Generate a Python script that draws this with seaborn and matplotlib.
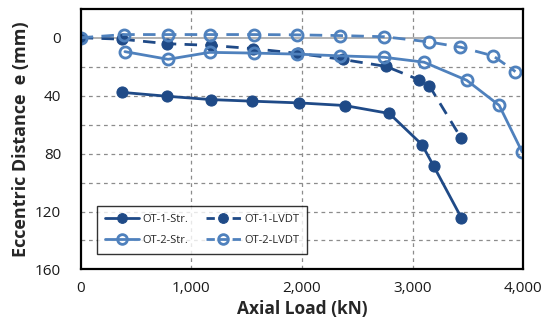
import matplotlib
matplotlib.use("Agg")
import matplotlib.pyplot as plt
from matplotlib.lines import Line2D
import seaborn as sns

# Data
ot1_str_load = [370, 780, 1175, 1545, 1975, 2385, 2790, 3085, 3190, 3440]
ot1_str_e = [37.7, 40.4, 42.7, 43.8, 45.0, 46.8, 52.3, 73.8, 88.5, 124.2]

ot1_lvdt_load = [0, 370, 780, 1175, 1555, 1960, 2370, 2760, 3055, 3150, 3438]
ot1_lvdt_e = [0, 1.0, 4.1, 5.3, 7.5, 10.8, 15.0, 19.8, 28.9, 33.0, 69.2]

ot2_str_load = [400, 790, 1165, 1565, 1955, 2340, 2745, 3105, 3490, 3783, 3990]
ot2_str_e = [9.6, 14.9, 10.1, 10.6, 11.3, 12.5, 13.5, 16.9, 29.4, 46.7, 78.8]

ot2_lvdt_load = [0, 395, 785, 1168, 1565, 1952, 2345, 2745, 3150, 3432, 3728, 3930]
ot2_lvdt_e = [0, -2.2, -2.2, -2.2, -2.2, -2.0, -1.5, -0.7, 2.9, 6.5, 12.5, 23.4]

series_labels = ["OT-1-Str.", "OT-1-LVDT", "OT-2-Str.", "OT-2-LVDT"]
x_ticks = [0, 1000, 2000, 3000, 4000]
x_ticklabels = ["0", "1,000", "2,000", "3,000", "4,000"]
y_ticks = [0, 40, 80, 120, 160]

sns.set_theme(style="white")
plt.rcParams["font.family"] = ["Open Sans", "DejaVu Sans"]

dark = "#1F4A87"
light = "#4F81BD"
dash = (0, (4.5, 3))

fig = plt.figure(figsize=(5.45, 3.25), dpi=100)
ax = fig.add_axes([0.148, 0.171, 0.812, 0.802])

# grid
for yv in range(20, 160, 20):
    ax.axhline(yv, color="#8C8C8C", lw=0.9, ls=(0, (3, 3)), zorder=0)
for xv in [1000, 2000, 3000]:
    ax.axvline(xv, color="#8C8C8C", lw=0.9, ls=(0, (3, 3)), zorder=0)
ax.axhline(0, color="#A6A6A6", lw=1.2, zorder=0)

common = dict(estimator=None, sort=False, ax=ax, legend=False)
sns.lineplot(x=ot1_str_load, y=ot1_str_e, color=dark, lw=2, marker="o",
             markersize=8, markeredgecolor=dark, markerfacecolor=dark,
             **common)
sns.lineplot(x=ot1_lvdt_load, y=ot1_lvdt_e, color=dark, lw=2, marker="o",
             markersize=8, markeredgecolor=dark, markerfacecolor=dark,
             **common)
sns.lineplot(x=ot2_str_load, y=ot2_str_e, color=light, lw=2, marker="o",
             markersize=8, markeredgecolor=light, markerfacecolor="none",
             markeredgewidth=2, **common)
sns.lineplot(x=ot2_lvdt_load, y=ot2_lvdt_e, color=light, lw=2, marker="o",
             markersize=8, markeredgecolor=light, markerfacecolor="none",
             markeredgewidth=2, **common)

lines = ax.get_lines()[-4:]
lines[1].set_linestyle(dash)
lines[3].set_linestyle(dash)

ax.set_xlim(0, 4000)
ax.set_ylim(160, -20)
ax.set_xticks(x_ticks)
ax.set_xticklabels(x_ticklabels)
ax.set_yticks(y_ticks)
ax.tick_params(axis="both", length=0, labelsize=11, labelcolor="#1a1a1a")
ax.tick_params(axis="x", pad=8)
ax.tick_params(axis="y", pad=14)
for s in ax.spines.values():
    s.set_color("black")
    s.set_linewidth(1.6)

ax.set_xlabel("Axial Load (kN)", fontsize=12.5, fontweight="bold", labelpad=3)
ax.set_ylabel("Eccentric Distance  e (mm)", fontsize=13, fontweight="bold", labelpad=4)

# legend proxies (row-wise ordering for a 2-column legend)
def proxy(src, dashed):
    h = Line2D([], [], color=src.get_color(), lw=2, marker="o", markersize=7,
               markeredgecolor=src.get_markeredgecolor(),
               markerfacecolor=src.get_markerfacecolor(),
               markeredgewidth=src.get_markeredgewidth())
    if dashed:
        h.set_linestyle((0, (3, 1.7)))
    return h

handles = [proxy(ln, i in (1, 3)) for i, ln in enumerate(lines)]
order = [0, 2, 1, 3]
leg = ax.legend([handles[i] for i in order], [series_labels[i] for i in order],
                ncol=2, loc="lower left",
                bbox_to_anchor=(0.037, 0.06), borderaxespad=0,
                frameon=True, fancybox=False,
                edgecolor="black", fontsize=8, handlelength=3.1,
                columnspacing=1.6, borderpad=0.7, labelspacing=0.9,
                handletextpad=0.3)
leg.get_frame().set_linewidth(1.0)

fig.savefig("out.png", dpi=100)
